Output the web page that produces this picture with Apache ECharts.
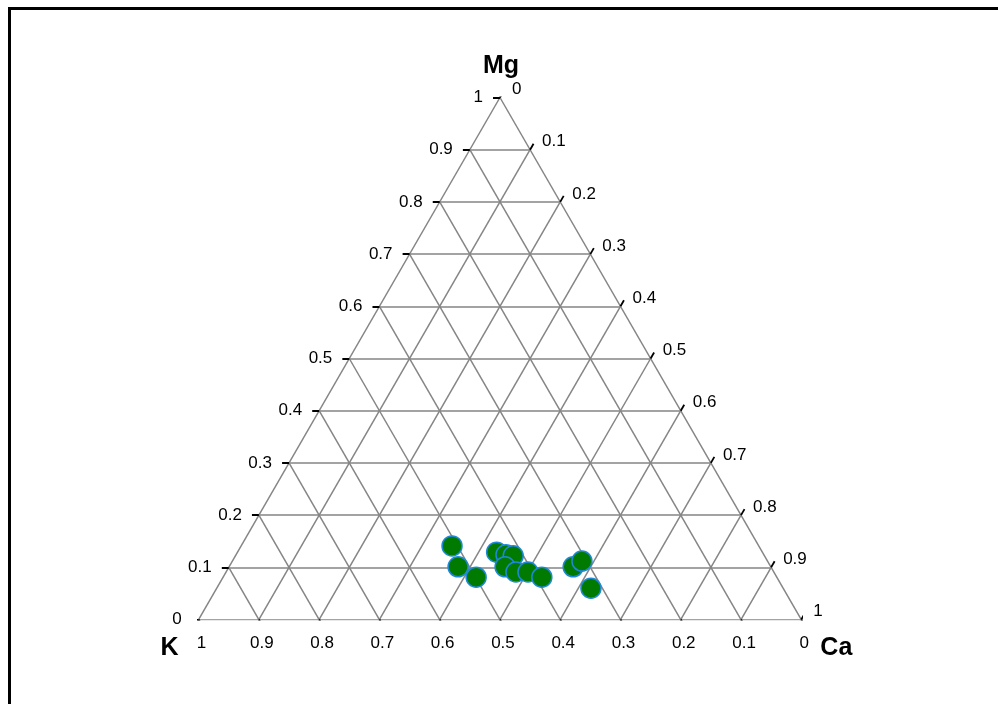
<!DOCTYPE html>
<html>
<head>
<meta charset="utf-8">
<script src="https://cdn.jsdelivr.net/npm/echarts@6/dist/echarts.min.js"></script>
<style>
html,body{margin:0;padding:0;background:#fff;}
#wrap{position:relative;width:998px;height:704px;overflow:hidden;}
#chart{position:absolute;left:0;top:0;width:998px;height:704px;}
#frame{position:absolute;left:8px;top:7px;width:1100px;height:800px;border-left:3px solid #000;border-top:3px solid #000;pointer-events:none;}
</style>
</head>
<body>
<div id="wrap"><div id="chart"></div><div id="frame"></div></div>
<script>
// ---- data (ternary compositions) ----
const K  = [0.509, 0.519, 0.499, 0.441, 0.428, 0.417, 0.441, 0.428, 0.408, 0.390, 0.328, 0.308, 0.319];
const Mg = [0.141, 0.101, 0.081, 0.129, 0.124, 0.122, 0.101, 0.091, 0.091, 0.081, 0.101, 0.112, 0.060];
const Ca = [0.350, 0.380, 0.420, 0.430, 0.448, 0.461, 0.458, 0.481, 0.501, 0.529, 0.571, 0.580, 0.621];
const tickValues = [0, 0.1, 0.2, 0.3, 0.4, 0.5, 0.6, 0.7, 0.8, 0.9, 1];
const tickLabels = ['0', '0.1', '0.2', '0.3', '0.4', '0.5', '0.6', '0.7', '0.8', '0.9', '1'];
const axisNames = { top: 'Mg', left: 'K', right: 'Ca' };

// ---- ternary -> cartesian (data units; side length 1) ----
const S = Math.sqrt(3) / 2;
function toXY(k, mg, ca) {
  const t = k + mg + ca;
  mg /= t; ca /= t;
  return [ca + mg / 2, mg * S];
}

// grid lines
const gridSegs = [];
tickValues.forEach(v => {
  gridSegs.push({ coords: [toXY(1 - v, v, 0), toXY(0, v, 1 - v)] });   // constant Mg
  gridSegs.push({ coords: [toXY(1 - v, 0, v), toXY(0, 1 - v, v)] });   // constant Ca
  gridSegs.push({ coords: [toXY(v, 0, 1 - v), toXY(v, 1 - v, 0)] });   // constant K
});

// ticks
const TL = 0.0115;
const tickSegs = [];
const leftLab = [], bottomLab = [], rightLab = [];
tickValues.forEach((v, i) => {
  const pl = toXY(1 - v, v, 0);           // Mg on left edge
  tickSegs.push({ coords: [pl, [pl[0] - TL, pl[1]]] });
  leftLab.push({ name: tickLabels[i], value: pl });
  const pb = toXY(v, 0, 1 - v);           // K on bottom edge
  tickSegs.push({ coords: [pb, [pb[0] + TL * 0.5, pb[1] - TL * S]] });
  bottomLab.push({ name: tickLabels[i], value: pb });
  const pr = toXY(0, 1 - v, v);           // Ca on right edge
  tickSegs.push({ coords: [pr, [pr[0] + TL * 0.5, pr[1] + TL * S]] });
  rightLab.push({ name: tickLabels[i], value: pr });
});

const points = K.map((k, i) => toXY(k, Mg[i], Ca[i]));

const labFont = { fontFamily: 'Liberation Sans, Arial, sans-serif', fontSize: 17, color: '#000', textBorderWidth: 0, opacity: 1 };
const titleFont = { fontFamily: 'Liberation Sans, Arial, sans-serif', fontSize: 25, fontWeight: 'bold', color: '#000', textBorderWidth: 0, opacity: 1 };

function labelSeries(data, label) {
  return {
    type: 'scatter', data: data, symbolSize: 0, silent: true, z: 5,
    itemStyle: { color: '#000', opacity: 1 },
    label: Object.assign({ show: true, formatter: p => p.name }, labFont, label)
  };
}

const chart = echarts.init(document.getElementById('chart'), null, { renderer: 'canvas' });
chart.setOption({
  animation: false,
  backgroundColor: '#fff',
  grid: { left: 198.6, top: 97.5, width: 602.7, height: 522, containLabel: false },
  xAxis: { type: 'value', min: 0, max: 1, show: false },
  yAxis: { type: 'value', min: 0, max: S, show: false },
  series: [
    {
      type: 'lines', coordinateSystem: 'cartesian2d', data: gridSegs, silent: true, z: 1,
      lineStyle: { color: '#858585', width: 1.5, opacity: 1 }
    },
    {
      type: 'lines', coordinateSystem: 'cartesian2d', data: tickSegs, silent: true, z: 2,
      lineStyle: { color: '#000', width: 1.8, opacity: 1 }
    },
    labelSeries(leftLab, { position: 'left', distance: 17 }),
    labelSeries(bottomLab, { position: 'bottom', distance: 15, offset: [3, 0] }),
    labelSeries(rightLab, { position: 'right', distance: 12, offset: [0, -8] }),
    {
      type: 'scatter', symbolSize: 0, silent: true, z: 5,
      itemStyle: { color: '#000', opacity: 1 },
      data: [
        { name: axisNames.top, value: toXY(0, 1, 0), label: { offset: [1, -31] } },
        { name: axisNames.left, value: toXY(1, 0, 0), label: { offset: [-29, 29] } },
        { name: axisNames.right, value: toXY(0, 0, 1), label: { offset: [35, 29] } }
      ],
      label: Object.assign({ show: true, position: 'inside', formatter: p => p.name }, titleFont)
    },
    {
      type: 'scatter', data: points, symbol: 'circle', symbolSize: 20, z: 10,
      itemStyle: { color: '#007a00', borderColor: '#1f88d8', borderWidth: 1.5, opacity: 1 }
    }
  ]
});
</script>
</body>
</html>
